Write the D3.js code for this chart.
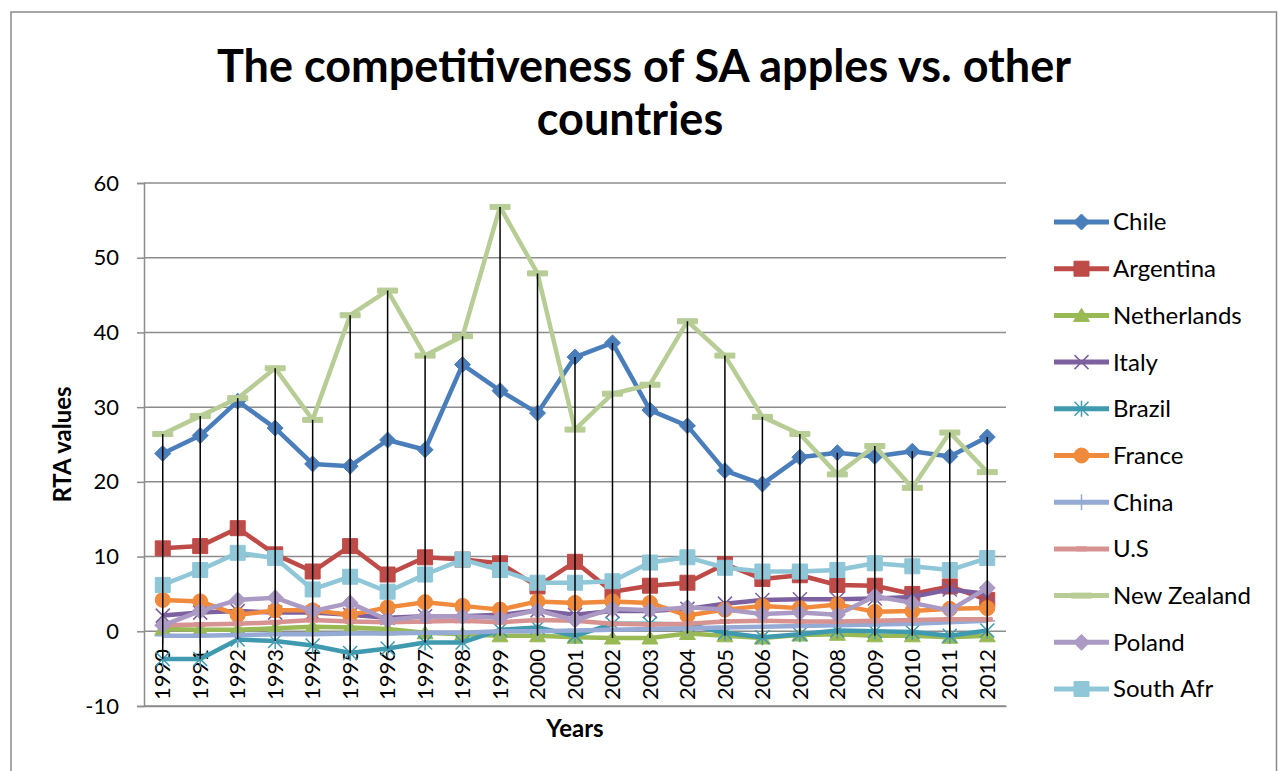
<!DOCTYPE html>
<html>
<head>
<meta charset="utf-8">
<script src="https://cdnjs.cloudflare.com/ajax/libs/d3/7.8.5/d3.min.js"></script>
<style>
body { margin: 0; background: #fff; }
text { font-family: Lato, "Open Sans", sans-serif; fill: #000; }
</style>
</head>
<body>
<svg id="chart" width="1278" height="771"></svg>
<script>
// data
var years = ["1990","1991","1992","1993","1994","1995","1996","1997","1998","1999","2000","2001",
             "2002","2003","2004","2005","2006","2007","2008","2009","2010","2011","2012"];
var chile       = [23.8,26.2,30.8,27.2,22.4,22.1,25.6,24.3,35.7,32.2,29.2,36.7,38.6,29.6,27.5,21.5,19.7,23.3,23.9,23.4,24.1,23.4,26.0];
var argentina   = [11.1,11.4,13.8,10.3,8.0,11.4,7.6,9.9,9.6,9.1,6.0,9.3,5.3,6.1,6.5,9.0,7.0,7.5,6.2,6.1,5.0,6.0,4.2];
var netherlands = [0.3,0.2,0.2,0.4,0.6,0.5,0.3,-0.2,-0.4,-0.6,-0.6,-0.8,-0.9,-0.9,-0.3,-0.6,-0.9,-0.5,-0.4,-0.6,-0.6,-0.8,-0.6];
var italy       = [2.1,2.5,2.7,2.5,2.5,2.2,1.8,2.0,2.0,2.2,2.8,2.2,2.7,2.7,3.0,3.7,4.2,4.3,4.3,4.4,4.6,5.6,5.0];
var brazil      = [-3.7,-3.7,-1.1,-1.3,-1.9,-2.9,-2.3,-1.5,-1.5,0.2,0.5,-0.6,1.0,1.0,0.9,-0.2,-0.8,-0.4,0.1,0.0,-0.1,-0.6,0.1];
var france      = [4.2,4.0,2.2,2.8,2.8,2.2,3.2,3.9,3.4,2.9,4.0,3.8,4.0,3.8,2.1,2.9,3.4,3.1,3.6,2.6,2.7,3.0,3.1];
var china       = [-0.6,-0.6,-0.5,-0.4,-0.4,-0.3,-0.3,-0.2,-0.2,0.0,0.0,0.1,0.2,0.3,0.4,0.5,0.6,0.7,0.8,0.9,1.0,1.2,1.4];
var us          = [0.8,0.9,1.0,1.2,1.5,1.3,1.2,1.3,1.4,1.2,1.5,1.4,1.0,0.9,1.0,1.3,1.4,1.3,1.3,1.4,1.5,1.6,1.6];
var newZealand  = [26.4,28.8,31.2,35.2,28.3,42.3,45.6,36.9,39.5,56.8,47.9,27.0,31.8,33.0,41.5,36.9,28.7,26.4,21.0,24.8,19.2,26.6,21.3];
var poland      = [0.8,2.7,4.2,4.5,2.7,3.8,1.5,2.0,2.0,1.8,2.8,1.5,3.0,2.8,3.2,2.9,2.3,2.5,2.2,4.7,3.8,2.8,5.8];
var southAfr    = [6.2,8.2,10.5,9.8,5.6,7.3,5.3,7.6,9.6,8.2,6.5,6.5,6.7,9.2,9.9,8.5,8.0,8.0,8.2,9.1,8.7,8.2,9.8];

var seriesNames = ["Chile","Argentina","Netherlands","Italy","Brazil","France","China","U.S","New Zealand","Poland","South Afr"];
var seriesValues = [chile,argentina,netherlands,italy,brazil,france,china,us,newZealand,poland,southAfr];
var seriesColors = ["#4A7EBB","#BE4B48","#98B954","#7D60A0","#3F9AB0","#F08A3C","#95ABD5","#D69391","#B7CD95","#AB9AC4","#8FC7D8"];
var seriesMarkers = ["diamond","square","triangle","times","asterisk","circle","plus","dash","longdash","diamond","square"];
var yTicks = [-10,0,10,20,30,40,50,60];

var series = seriesNames.map(function(n, i) {
  return {name: n, color: seriesColors[i], marker: seriesMarkers[i],
          values: seriesValues[i].map(function(v, j) { return {year: years[j], value: v}; })};
});

var svg = d3.select("#chart");
var margin = {top: 183, left: 144, right: 272, bottom: 65};
var width = 1278 - margin.left - margin.right,
    height = 771 - margin.top - margin.bottom;

var x = d3.scaleBand().domain(years).range([margin.left, margin.left + width]).padding(0);
var y = d3.scaleLinear().domain([-10, 60]).range([margin.top + height, margin.top]);
var cx = function(d) { return x(d.year) + x.bandwidth() / 2; };

// chart border
svg.append("rect")
  .attr("x", 11).attr("y", 12).attr("width", 1265.5).attr("height", 800)
  .attr("fill", "none").attr("stroke", "#8a8a8a").attr("stroke-width", 1.5);

// title
var title = svg.append("text")
  .attr("text-anchor", "middle")
  .style("font-weight", "bold").style("font-size", "45px");
title.append("tspan").attr("x", 644).attr("y", 82).text("The competitiveness of SA apples vs. other");
title.append("tspan").attr("x", 630).attr("y", 135).text("countries");

// gridlines
svg.append("g")
  .selectAll("line")
  .data(yTicks)
  .enter().append("line")
  .attr("x1", margin.left).attr("x2", margin.left + width)
  .attr("y1", function(d) { return y(d); }).attr("y2", function(d) { return y(d); })
  .attr("stroke", "#8c8c8c").attr("stroke-width", 1.5);

// y axis
var yAxis = svg.append("g")
  .attr("transform", "translate(" + margin.left + ",0)")
  .call(d3.axisLeft(y).tickValues(yTicks).tickSize(7).tickPadding(18).tickFormat(function(d) { return String(d); }));
yAxis.select(".domain").attr("stroke", "#8c8c8c").attr("stroke-width", 1.5);
yAxis.selectAll(".tick line").attr("stroke", "#8c8c8c").attr("stroke-width", 1.5);
yAxis.selectAll("text").style("font-size", "22px").attr("fill", "#000");

// x axis (sits at -10)
var xAxis = svg.append("g")
  .attr("transform", "translate(0," + y(-10) + ")")
  .call(d3.axisBottom(x).tickSize(0).tickPadding(0));
xAxis.select(".domain").attr("stroke", "#8c8c8c").attr("stroke-width", 1.5);
xAxis.selectAll("text")
  .style("font-size", "22px")
  .attr("text-anchor", "start")
  .attr("dy", "0.35em")
  .attr("transform", "translate(0,-6) rotate(-90)");

// axis titles
svg.append("text")
  .attr("transform", "translate(71," + (margin.top + height / 2) + ") rotate(-90)")
  .attr("text-anchor", "middle")
  .style("font-weight", "bold").style("font-size", "24px")
  .text("RTA values");
svg.append("text")
  .attr("x", margin.left + width / 2).attr("y", 737)
  .attr("text-anchor", "middle")
  .style("font-weight", "bold").style("font-size", "24px")
  .text("Years");

// marker shapes
function markerPath(type) {
  switch (type) {
    case "diamond":  return "M0,-8L8,0L0,8L-8,0Z";
    case "square":   return "M-7.5,-7.5H7.5V7.5H-7.5Z";
    case "triangle": return "M0,-7L8,6H-8Z";
    case "circle":   return "M-7.5,0A7.5,7.5 0 1,0 7.5,0A7.5,7.5 0 1,0 -7.5,0Z";
    case "times":    return "M-7,-7L7,7M-7,7L7,-7";
    case "asterisk": return "M-7,-7L7,7M-7,7L7,-7M0,-8V8";
    case "plus":     return "M0,-8V8M-8,0H8";
    case "dash":     return "M-5,-2H5V2H-5Z";
    case "longdash": return "M-10,-2.5H10V2.5H-10Z";
  }
}
var strokeMarker = {times: 1, asterisk: 1, plus: 1};

function drawMarker(sel, s) {
  sel.append("path")
    .attr("d", markerPath(s.marker))
    .attr("fill", strokeMarker[s.marker] ? "none" : s.color)
    .attr("stroke", s.color)
    .attr("stroke-width", strokeMarker[s.marker] ? 1.5 : 1);
}

var line = d3.line().x(cx).y(function(d) { return y(d.value); });

var plot = svg.append("g");
series.forEach(function(s) {
  var g = plot.append("g");
  g.append("path")
    .datum(s.values)
    .attr("d", line)
    .attr("fill", "none")
    .attr("stroke", s.color)
    .attr("stroke-width", 4.5)
    .attr("stroke-linejoin", "round");
  g.selectAll("g.mk")
    .data(s.values)
    .enter().append("g")
    .attr("class", "mk")
    .attr("transform", function(d) { return "translate(" + cx(d) + "," + y(d.value) + ")"; })
    .each(function() { drawMarker(d3.select(this), s); });
});

// high-low lines
var hiLo = years.map(function(yr, j) {
  var vals = seriesValues.map(function(a) { return a[j]; });
  return {year: yr, hi: d3.max(vals), lo: d3.min(vals)};
});
svg.append("g")
  .selectAll("line")
  .data(hiLo)
  .enter().append("line")
  .attr("x1", cx).attr("x2", cx)
  .attr("y1", function(d) { return y(d.hi); })
  .attr("y2", function(d) { return y(d.lo); })
  .attr("stroke", "#000").attr("stroke-width", 1.5);

// legend
var legend = svg.append("g").attr("transform", "translate(1054,222)");
var item = legend.selectAll("g")
  .data(series)
  .enter().append("g")
  .attr("transform", function(d, i) { return "translate(0," + (i * 46.7) + ")"; });
item.append("line")
  .attr("x1", 0).attr("x2", 55)
  .attr("stroke", function(d) { return d.color; })
  .attr("stroke-width", 5);
item.each(function(d) {
  var m = d3.select(this).append("g").attr("transform", "translate(27.5,0)");
  drawMarker(m, d);
});
item.append("text")
  .attr("x", 59).attr("dy", "0.35em")
  .style("font-size", "24px")
  .text(function(d) { return d.name; });
</script>
</body>
</html>
